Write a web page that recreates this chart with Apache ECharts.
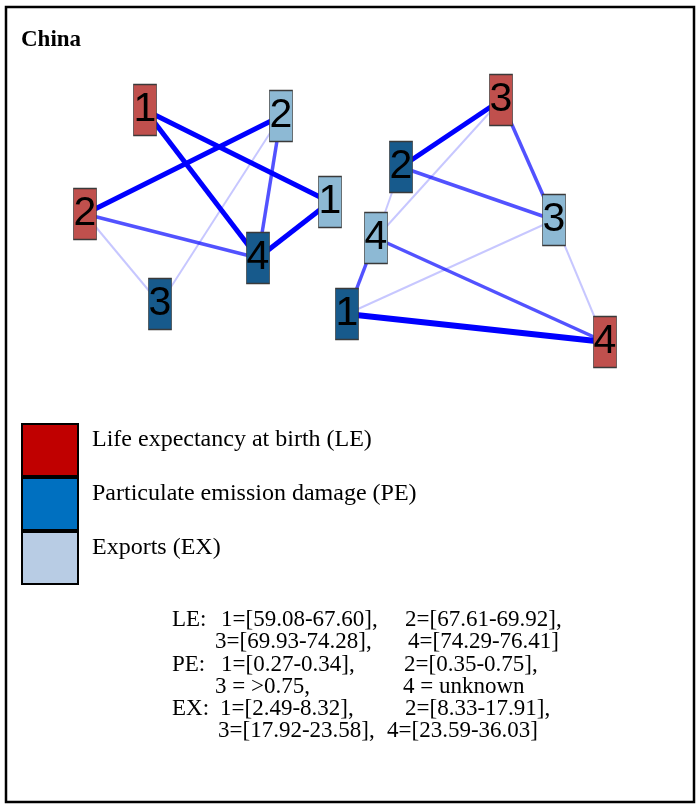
<!DOCTYPE html>
<html>
<head>
<meta charset="utf-8">
<title>China</title>
<script src="https://cdn.jsdelivr.net/npm/echarts@6/dist/echarts.min.js"></script>
<style>
  html, body { margin: 0; padding: 0; background: #fff; }
  #main { width: 697px; height: 804px; }
</style>
</head>
<body>
<div id="main"></div>
<script>
// nodes: variable + level, position on the layout plane
var nodeVar   = ["LE", "EX", "LE", "EX", "PE", "PE", "LE", "PE", "EX", "EX", "PE", "LE"];
var nodeLevel = [1, 2, 2, 1, 4, 3, 3, 2, 3, 4, 1, 4];
var nodeX     = [145, 281, 85, 330, 258, 160, 501, 401, 554, 376, 347, 605];
var nodeY     = [110, 116, 214, 202, 258, 304, 100, 167, 220, 238, 314, 342];

// edges (index into node arrays) and strength 1..4
var edgeSource = [0, 0, 2, 3, 2, 1, 2, 1, 6, 6, 7, 6, 7, 9, 9, 10, 10, 8];
var edgeTarget = [3, 4, 1, 4, 4, 4, 5, 5, 7, 8, 8, 9, 9, 10, 11, 11, 8, 11];
var edgeWeight = [3, 3, 3, 3, 2, 2, 1, 1, 3, 2, 2, 1, 1, 2, 2, 4, 1, 1];

var varNames = ["LE", "PE", "EX"];
var legendNames = ["Life expectancy at birth (LE)", "Particulate emission damage (PE)", "Exports (EX)"];
var keyLabels = ["LE:", "PE:", "EX:"];
var keyLeft = [
  "1=[59.08-67.60],", "3=[69.93-74.28],",
  "1=[0.27-0.34],", "3 = >0.75,",
  "1=[2.49-8.32],", "3=[17.92-23.58],"
];
var keyRight = [
  "2=[67.61-69.92],", "4=[74.29-76.41]",
  "2=[0.35-0.75],", "4 = unknown",
  "2=[8.33-17.91],", "4=[23.59-36.03]"
];

var nodeColors = ["#C0504D", "#175A8C", "#8DB9D4"];
var legendColors = ["#C00000", "#0070C0", "#B8CCE4"];
var widthByWeight = { 1: 2, 2: 3.5, 3: 5, 4: 6 };
var opacityByWeight = { 1: 0.22, 2: 0.68, 3: 1, 4: 1 };

var chart = echarts.init(document.getElementById("main"));

var nodes = [];
for (var i = 0; i < nodeVar.length; i += 1) {
  nodes.push({
    name: nodeVar[i] + nodeLevel[i],
    value: [nodeX[i], nodeY[i]],
    category: varNames.indexOf(nodeVar[i]),
    level: nodeLevel[i]
  });
}

var links = [];
for (var j = 0; j < edgeSource.length; j += 1) {
  var w = edgeWeight[j];
  links.push({
    source: nodes[edgeSource[j]].name,
    target: nodes[edgeTarget[j]].name,
    value: w,
    lineStyle: { width: widthByWeight[w], opacity: opacityByWeight[w] }
  });
}

var graphic = [
  {
    type: "rect",
    shape: { x: 6, y: 7, width: 688, height: 795 },
    style: { fill: null, stroke: "#000", lineWidth: 2.5 },
    silent: true
  },
  {
    type: "text",
    x: 21, y: 40,
    style: {
      text: "China", fill: "#000",
      font: "bold 23px 'Liberation Serif', 'Times New Roman', serif",
      verticalAlign: "middle"
    }
  }
];

// key under the legend: label, left column, right column
var rowMid = [620, 642, 664.5, 686.5, 709, 731];
var leftX = [221, 215, 221, 215, 220, 218];
var rightX = [405, 408, 404, 403, 405, 387];
var keyFont = "23px 'Liberation Serif', 'Times New Roman', serif";
for (var r = 0; r < rowMid.length; r += 1) {
  if (r % 2 === 0) {
    graphic.push({
      type: "text", x: 172, y: rowMid[r],
      style: { text: keyLabels[r / 2], fill: "#000", font: keyFont, verticalAlign: "middle" }
    });
  }
  graphic.push({
    type: "text", x: leftX[r], y: rowMid[r],
    style: { text: keyLeft[r], fill: "#000", font: keyFont, verticalAlign: "middle" }
  });
  graphic.push({
    type: "text", x: rightX[r], y: rowMid[r],
    style: { text: keyRight[r], fill: "#000", font: keyFont, verticalAlign: "middle" }
  });
}

var option = {
  animation: false,
  backgroundColor: "#fff",
  grid: { left: 0, right: 0, top: 0, bottom: 0 },
  xAxis: { type: "value", min: 0, max: 697, show: false },
  yAxis: { type: "value", min: 0, max: 804, inverse: true, show: false },
  legend: {
    orient: "vertical",
    left: 21,
    top: 423,
    padding: 0,
    itemWidth: 56,
    itemHeight: 52,
    itemGap: 0,
    selectedMode: false,
    icon: "rect",
    formatter: function (name) {
      return "{t|" + name + "}";
    },
    textStyle: {
      fontSize: 24,
      fontFamily: "'Liberation Serif', 'Times New Roman', serif",
      color: "#000",
      padding: [0, 0, 0, 9],
      rich: {
        t: {
          fontSize: 24,
          fontFamily: "'Liberation Serif', 'Times New Roman', serif",
          color: "#000",
          lineHeight: 44,
          verticalAlign: "top"
        }
      }
    },
    data: legendNames.map(function (n, k) {
      return {
        name: n,
        itemStyle: { color: legendColors[k], borderColor: "#000", borderWidth: 2 }
      };
    })
  },
  graphic: graphic,
  series: [
    {
      // edges only, drawn below the boxes
      type: "graph",
      layout: "none",
      coordinateSystem: "cartesian2d",
      z: 1,
      symbolSize: 0,
      label: { show: false },
      lineStyle: { color: "#0000FF", curveness: 0 },
      emphasis: { disabled: true },
      silent: true,
      data: nodes.map(function (d) {
        return { name: d.name, value: d.value };
      }),
      links: links
    },
    {
      // boxes with level numbers
      type: "graph",
      layout: "none",
      coordinateSystem: "cartesian2d",
      z: 3,
      symbol: "rect",
      symbolSize: [23, 51],
      categories: legendNames.map(function (n, k) {
        return { name: n, itemStyle: { color: nodeColors[k] } };
      }),
      itemStyle: { borderColor: "#3a3a3a", borderWidth: 1 },
      label: {
        show: true,
        position: "inside",
        color: "#000",
        fontSize: 41,
        fontFamily: "'Liberation Sans', Arial, sans-serif",
        formatter: function (p) {
          return p.data.level;
        }
      },
      emphasis: { disabled: true },
      data: nodes,
      links: []
    }
  ]
};

chart.setOption(option);
</script>
</body>
</html>
